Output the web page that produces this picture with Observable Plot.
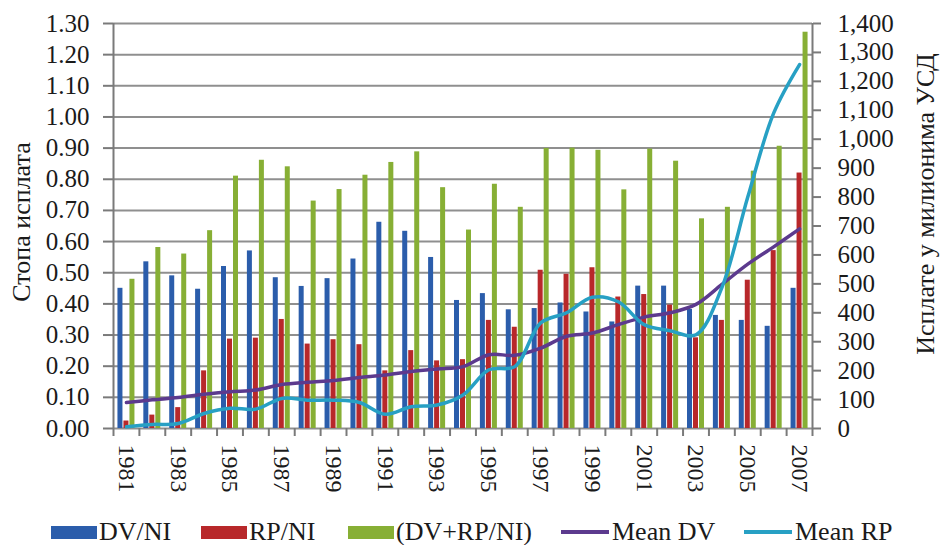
<!DOCTYPE html>
<html><head><meta charset="utf-8">
<script src="https://cdn.jsdelivr.net/npm/d3@7"></script>
<script src="https://cdn.jsdelivr.net/npm/@observablehq/plot@0.6"></script>
<style>
body{margin:0;background:#fff;font-family:"Liberation Serif",serif;}
#chart{width:941px;height:505px;}
#legend{position:relative;width:941px;height:40px;}
.item{position:absolute;top:13px;height:28px;display:flex;align-items:center;font-size:26px;color:#1a1a1a;white-space:nowrap;}
.sw{display:inline-block;width:46px;height:13px;margin-right:2px;}
.ln{display:inline-block;width:48px;height:4px;margin-right:3px;}
</style></head><body>
<div id="chart"></div>
<div id="legend"></div>
<script>
const years = [1981,1982,1983,1984,1985,1986,1987,1988,1989,1990,1991,1992,1993,1994,1995,1996,1997,1998,1999,2000,2001,2002,2003,2004,2005,2006,2007];
const dvNI  = [0.450,0.535,0.490,0.447,0.520,0.570,0.484,0.456,0.481,0.544,0.662,0.633,0.549,0.411,0.433,0.381,0.385,0.403,0.374,0.342,0.457,0.457,0.382,0.363,0.347,0.328,0.450];
const rpNI  = [0.024,0.043,0.067,0.185,0.287,0.290,0.350,0.271,0.285,0.269,0.185,0.250,0.217,0.221,0.347,0.325,0.508,0.495,0.516,0.422,0.430,0.396,0.291,0.347,0.476,0.571,0.820];
const totNI = [0.479,0.581,0.560,0.635,0.810,0.861,0.840,0.730,0.767,0.813,0.854,0.888,0.773,0.637,0.784,0.710,0.899,0.900,0.893,0.766,0.897,0.858,0.673,0.710,0.826,0.906,1.272];
const meanDV = [90,99,107,118,127,133,152,160,166,176,185,197,206,214,255,253,278,319,330,359,385,400,429,498,568,628,690];
const meanRP = [6,14,17,52,70,67,104,98,98,90,49,75,81,116,203,214,365,400,454,438,359,338,324,487,800,1090,1258];
const leftTicks = [0,0.1,0.2,0.3,0.4,0.5,0.6,0.7,0.8,0.9,1.0,1.1,1.2,1.3];
const rightTicks = [0,100,200,300,400,500,600,700,800,900,1000,1100,1200,1300,1400];
const yearLabels = [1981,1983,1985,1987,1989,1991,1993,1995,1997,1999,2001,2003,2005,2007];
const seriesNames = ["DV/NI","RP/NI","(DV+RP/NI)","Mean DV","Mean RP"];
const colors = ["#2B5DAB","#B8282A","#87AF35","#5C3A8E","#27A0C4"];
const leftTitle = "Стопа исплата";
const rightTitle = "Исплате у милионима УСД";

const K = 1.3 / 1400;
const rows = years.map((y, i) => ({year: String(y), dv: dvNI[i], rp: rpNI[i], tot: totNI[i], mdv: meanDV[i] * K, mrp: meanRP[i] * K}));
const BW = (941 - 113 - 129) / years.length;
const h = BW / 2;

const plot = Plot.plot({
  width: 941, height: 505,
  marginLeft: 113, marginRight: 129, marginTop: 23, marginBottom: 77,
  style: {fontFamily: '"Liberation Serif", serif', fontSize: "25px", color: "#1a1a1a", background: "#fff"},
  x: {type: "band", domain: years.map(String), padding: 0, round: false, axis: null, label: null},
  y: {domain: [0, 1.3], axis: null, label: null},
  marks: [
    Plot.gridY(leftTicks, {stroke: "#8f8f8f", strokeOpacity: 1, strokeWidth: 2}),
    Plot.barY(rows, {x: "year", y: "dv", fill: colors[0], insetLeft: h - 8.5, insetRight: h + 3.5}),
    Plot.barY(rows, {x: "year", y: "rp", fill: colors[1], insetLeft: h - 2.5, insetRight: h - 2.5}),
    Plot.barY(rows, {x: "year", y: "tot", fill: colors[2], insetLeft: h + 3.5, insetRight: h - 8.5}),
    Plot.line(rows, {x: "year", y: "mdv", stroke: colors[3], strokeWidth: 3.5, curve: "catmull-rom"}),
    Plot.line(rows, {x: "year", y: "mrp", stroke: colors[4], strokeWidth: 3.5, curve: "catmull-rom"}),
    Plot.ruleX([String(years[0])], {dx: -h, y1: 0, y2: 1.3, stroke: "#7a7a7a", strokeWidth: 2}),
    Plot.ruleX([String(years[years.length - 1])], {dx: h, y1: 0, y2: 1.3, stroke: "#7a7a7a", strokeWidth: 2}),
    Plot.axisY(leftTicks, {anchor: "left", label: null, tickSize: 10, tickPadding: 14, tickFormat: d3.format(".2f"), stroke: "#7a7a7a", strokeWidth: 2, fontSize: 25}),
    Plot.axisY(rightTicks.map(v => v * K), {anchor: "right", label: null, tickSize: 8, tickPadding: 17, tickFormat: d => d3.format(",")(Math.round(d / K)), stroke: "#7a7a7a", strokeWidth: 2, fontSize: 25}),
    Plot.axisX(years.map(String), {label: null, tickSize: 8, tickFormat: () => "", dx: -h, stroke: "#7a7a7a", strokeWidth: 2}),
    Plot.axisX([String(years[years.length - 1])], {label: null, tickSize: 8, tickFormat: () => "", dx: h, stroke: "#7a7a7a", strokeWidth: 2}),
    Plot.axisX(yearLabels.map(String), {label: null, tickSize: 0, tickPadding: 16, tickRotate: 90, fontSize: 24}),
    Plot.text([leftTitle], {text: d => d, frameAnchor: "left", textAnchor: "middle", dx: -92, dy: -4, rotate: -90, fontSize: 26, fill: "#1a1a1a"}),
    Plot.text([rightTitle], {text: d => d, frameAnchor: "right", textAnchor: "middle", dx: 113, dy: -22, rotate: -90, fontSize: 26, fill: "#1a1a1a"})
  ]
});
document.getElementById("chart").appendChild(plot);

const legendLeft = [51, 201, 348, 561, 744];
const legend = document.getElementById("legend");
seriesNames.forEach((name, i) => {
  const it = document.createElement("div");
  it.className = "item";
  it.style.left = legendLeft[i] + "px";
  const sw = document.createElement("span");
  sw.className = i < 3 ? "sw" : "ln";
  sw.style.background = colors[i];
  it.appendChild(sw);
  const t = document.createElement("span");
  t.textContent = name;
  it.appendChild(t);
  legend.appendChild(it);
});
</script>
</body></html>
